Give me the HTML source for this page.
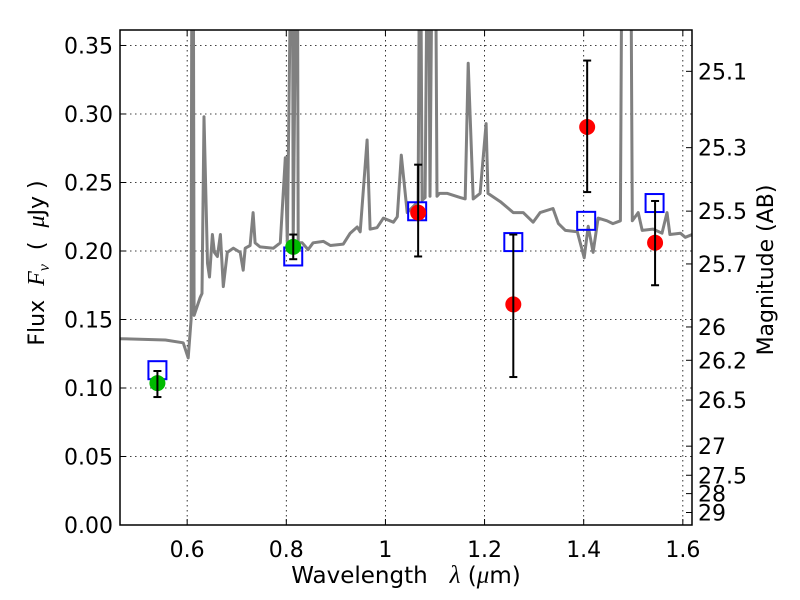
<!DOCTYPE html>
<html><head><meta charset="utf-8"><style>
html,body{margin:0;padding:0;background:#fff;}
svg{display:block;font-family:"DejaVu Sans","Liberation Sans",sans-serif;}
</style></head><body>
<svg id="chart" width="800" height="600" xmlns="http://www.w3.org/2000/svg">
<rect width="800" height="600" fill="#fff"/>
<g id="grid"></g>
<g id="spec"></g>
<g id="marks"></g>
<rect x="120" y="30" width="572" height="495" fill="none" stroke="#000" stroke-width="1.5"/>
<g id="ticks"></g>
<text x="406" y="583" font-size="23" text-anchor="middle" xml:space="preserve">Wavelength   <tspan font-family="Liberation Serif" font-style="italic" font-size="25">λ</tspan> (<tspan font-family="Liberation Serif" font-style="italic" font-size="25">μ</tspan>m)</text>
<text transform="translate(44,263) rotate(-90)" font-size="22" text-anchor="middle" xml:space="preserve">Flux  <tspan font-family="Liberation Serif" font-style="italic" font-size="24">F</tspan><tspan font-family="Liberation Serif" font-style="italic" font-size="16" dy="5">ν</tspan><tspan dy="-5">  (  </tspan><tspan font-family="Liberation Serif" font-style="italic" font-size="24">μ</tspan>Jy )</text>
<text transform="translate(773,270) rotate(-90)" font-size="22" text-anchor="middle">Magnitude (AB)</text>
</svg>
<script>
const xTicks=[0.6,0.8,1.0,1.2,1.4,1.6];
const xTickLabels=["0.6","0.8","1","1.2","1.4","1.6"];
const yTicks=[0,0.05,0.1,0.15,0.2,0.25,0.3,0.35];
const yTickLabels=["0.00","0.05","0.10","0.15","0.20","0.25","0.30","0.35"];
const magTicks=[25.1,25.3,25.5,25.7,26,26.2,26.5,27,27.5,28,29];
const magTickLabels=["25.1","25.3","25.5","25.7","26","26.2","26.5","27","27.5","28","29"];
const specWave=[0.465,0.556,0.592,0.602,0.608,0.610,0.612,0.614,0.626,0.630,0.634,0.641,0.645,0.651,0.655,0.661,0.667,0.673,0.681,0.693,0.707,0.713,0.717,0.727,0.733,0.737,0.747,0.774,0.788,0.798,0.802,0.812,0.814,0.822,0.824,0.832,0.844,0.854,0.875,0.889,0.915,0.929,0.943,0.949,0.963,0.969,0.983,0.996,1.016,1.024,1.032,1.044,1.066,1.070,1.074,1.080,1.086,1.090,1.096,1.100,1.104,1.109,1.125,1.151,1.161,1.167,1.177,1.191,1.203,1.207,1.232,1.258,1.278,1.298,1.312,1.338,1.349,1.363,1.387,1.401,1.409,1.419,1.429,1.447,1.459,1.474,1.478,1.482,1.490,1.494,1.498,1.510,1.518,1.540,1.558,1.568,1.574,1.595,1.605,1.619];
const specFlux=[0.136,0.135,0.133,0.122,0.150,0.5,0.5,0.153,0.166,0.169,0.298,0.191,0.181,0.212,0.199,0.196,0.212,0.174,0.199,0.202,0.199,0.186,0.202,0.204,0.228,0.206,0.203,0.202,0.206,0.268,0.206,0.5,0.206,0.5,0.206,0.206,0.201,0.206,0.207,0.204,0.205,0.213,0.2175,0.214,0.281,0.216,0.217,0.224,0.221,0.225,0.270,0.228,0.236,0.5,0.237,0.239,0.5,0.240,0.5,0.5,0.240,0.242,0.242,0.239,0.238,0.337,0.238,0.242,0.293,0.242,0.236,0.228,0.228,0.221,0.228,0.231,0.220,0.215,0.214,0.195,0.218,0.199,0.224,0.222,0.220,0.222,0.5,0.5,0.5,0.5,0.222,0.228,0.215,0.216,0.213,0.228,0.212,0.213,0.210,0.212];
const greenWave=[0.540,0.814];
const greenFlux=[0.1036,0.203];
const greenLo=[0.0934,0.194];
const greenHi=[0.1124,0.212];
const redWave=[1.066,1.258,1.407,1.544];
const redFlux=[0.228,0.161,0.2905,0.206];
const redLo=[0.196,0.108,0.243,0.175];
const redHi=[0.263,0.212,0.339,0.2365];
const boxWave=[0.540,0.814,1.064,1.258,1.405,1.543];
const boxFlux=[0.113,0.196,0.229,0.2065,0.222,0.235];

const X0=120,X1=692,Y0=525,Y1=30,xmin=0.4645,xmax=1.6185,ymin=0,ymax=0.3613;
const sx=v=>X0+(v-xmin)/(xmax-xmin)*(X1-X0);
const sy=v=>Y0-(v-ymin)/(ymax-ymin)*(Y0-Y1);
const magToFlux=m=>Math.pow(10,(23.9-m)/2.5);
const NS="http://www.w3.org/2000/svg";
function mk(tag,parent,attrs){const e=document.createElementNS(NS,tag);for(const k in attrs)e.setAttribute(k,attrs[k]);parent.appendChild(e);return e;}
const grid=document.getElementById('grid'),ticks=document.getElementById('ticks'),spec=document.getElementById('spec'),marks=document.getElementById('marks');
xTicks.forEach((v,i)=>{const x=sx(v);
 let g=mk('line',grid,{x1:x,x2:x,y1:Y1,y2:Y0,stroke:'#000','stroke-width':0.8,'stroke-dasharray':'1.5,3.5'});
 
 mk('line',ticks,{x1:x,x2:x,y1:Y0,y2:Y0-6,stroke:'#000','stroke-width':1});
 mk('line',ticks,{x1:x,x2:x,y1:Y1,y2:Y1+6,stroke:'#000','stroke-width':1});
 let t=mk('text',ticks,{x:x,y:Y0+32,'font-size':22,'text-anchor':'middle'});t.textContent=xTickLabels[i];
 });
yTicks.forEach((v,i)=>{const y=sy(v);
 if(v>0){let g=mk('line',grid,{x1:X0,x2:X1,y1:y,y2:y,stroke:'#000','stroke-width':0.8,'stroke-dasharray':'1.5,3.5'});
 }
 mk('line',ticks,{x1:X0,x2:X0+6,y1:y,y2:y,stroke:'#000','stroke-width':1});
 let t=mk('text',ticks,{x:X0-7,y:y+8,'font-size':22,'text-anchor':'end'});t.textContent=yTickLabels[i];
 });
magTicks.forEach((m,i)=>{const y=sy(magToFlux(m));
 mk('line',ticks,{x1:X1,x2:X1-6,y1:y,y2:y,stroke:'#000','stroke-width':1});
 let t=mk('text',ticks,{x:X1+6,y:y+8,'font-size':22});t.textContent=magTickLabels[i];
 });
const cp=mk('clipPath',document.getElementById('chart'),{id:'cp'});mk('rect',cp,{x:X0,y:Y1,width:X1-X0,height:Y0-Y1});
let d=specWave.map((w,i)=>(i?'L':'M')+sx(w).toFixed(1)+','+sy(specFlux[i]).toFixed(1)).join('');
let sp=mk('path',spec,{d:d,fill:'none',stroke:'#808080','stroke-width':3,'stroke-linejoin':'round','clip-path':'url(#cp)'});

function errbar(w,lo,hi){const x=sx(w);
 let e=mk('line',marks,{x1:x,x2:x,y1:sy(lo),y2:sy(hi),stroke:'#000','stroke-width':2});
 
 mk('line',marks,{x1:x-4,x2:x+4,y1:sy(lo),y2:sy(lo),stroke:'#000','stroke-width':2});
 mk('line',marks,{x1:x-4,x2:x+4,y1:sy(hi),y2:sy(hi),stroke:'#000','stroke-width':2});}
boxWave.forEach((w,i)=>{let r=mk('rect',marks,{x:sx(w)-9,y:sy(boxFlux[i])-9,width:18,height:18,fill:'none',stroke:'#0000ff','stroke-width':2});
 });
greenWave.forEach((w,i)=>{let c=mk('circle',marks,{cx:sx(w),cy:sy(greenFlux[i]),r:8,fill:'#00bb00'});
 
 errbar(w,greenLo[i],greenHi[i]);});
redWave.forEach((w,i)=>{let c=mk('circle',marks,{cx:sx(w),cy:sy(redFlux[i]),r:8,fill:'#ff0000'});
 
 errbar(w,redLo[i],redHi[i]);});
</script>
</body></html>
